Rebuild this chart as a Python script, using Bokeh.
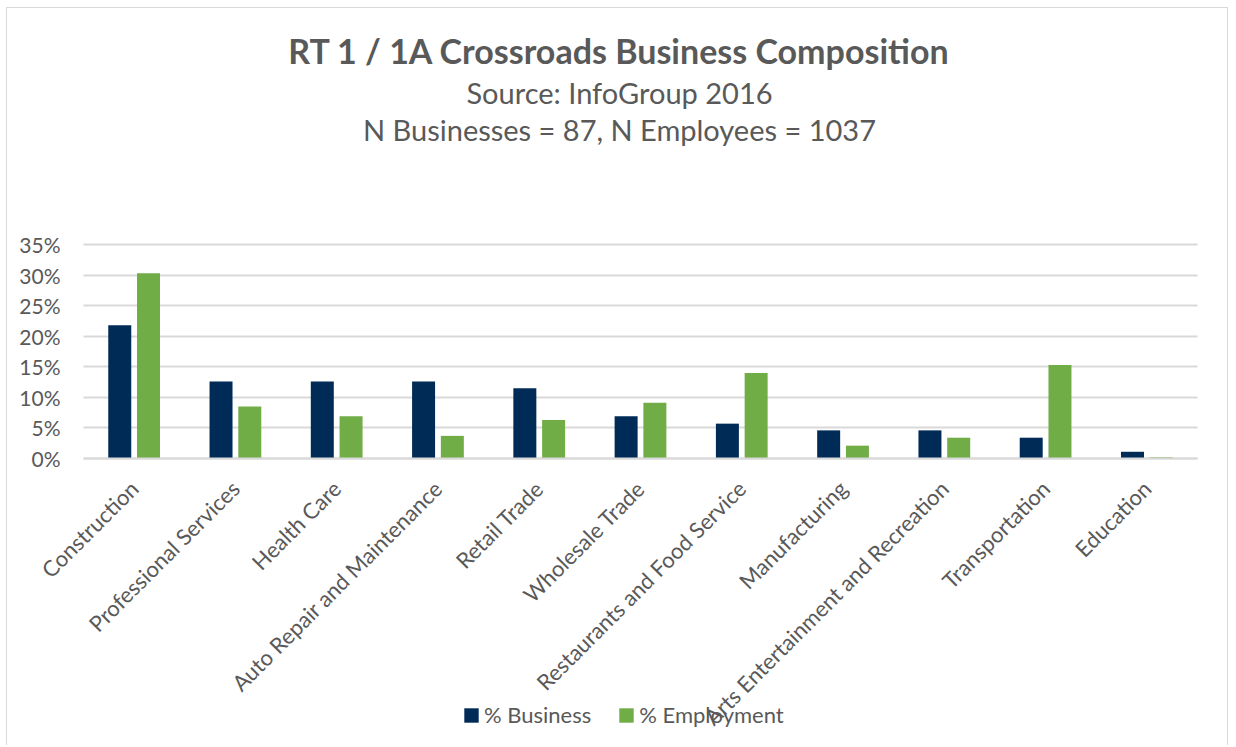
import math
from bokeh.plotting import figure
from bokeh.models import (ColumnDataSource, Range1d, FixedTicker, NumeralTickFormatter,
                          Label, Legend, LegendItem)
from bokeh.transform import dodge
from bokeh.embed import file_html
from bokeh.resources import INLINE

categories = ["Construction", "Professional Services", "Health Care", "Auto Repair and Maintenance",
              "Retail Trade", "Wholesale Trade", "Restaurants and Food Service", "Manufacturing",
              "Arts Entertainment and Recreation", "Transportation", "Education"]
pct_business = [21.8, 12.6, 12.6, 12.6, 11.5, 6.9, 5.7, 4.6, 4.6, 3.4, 1.1]
pct_employment = [30.3, 8.5, 6.9, 3.7, 6.3, 9.1, 14.0, 2.1, 3.4, 15.3, 0.2]
y_ticks = [0, 5, 10, 15, 20, 25, 30, 35]

title_lines = ["RT 1 / 1A Crossroads Business Composition",
               "Source: InfoGroup 2016",
               "N Businesses = 87, N Employees = 1037"]
series_names = ["% Business", "% Employment"]

NAVY = "#002B57"
GREEN = "#70AD47"
GRID = "#D9D9D9"
TEXT = "#595959"
FONT = "Lato"

# layout (canvas pixels)
W, H = 1222, 738
PLOT_LEFT, PLOT_RIGHT = 76, 1190
PLOT_TOP, PLOT_BOTTOM = 236, 450
n = len(categories)
cat_px = (PLOT_RIGHT - PLOT_LEFT) / n
x_lo = -PLOT_LEFT / cat_px
x_hi = n + (W - PLOT_RIGHT) / cat_px
y_max = max(y_ticks) / 100
per_px = y_max / (PLOT_BOTTOM - PLOT_TOP)
y_lo = -(H - PLOT_BOTTOM) * per_px
y_hi = y_max + PLOT_TOP * per_px

centers = [i + 0.5 for i in range(n)]
src = ColumnDataSource(dict(
    xc=centers,
    bus=[v / 100 for v in pct_business],
    emp=[v / 100 for v in pct_employment],
))

p = figure(x_range=Range1d(x_lo, x_hi), y_range=Range1d(y_lo, y_hi),
           width=W, height=H, output_backend="svg", toolbar_location=None,
           min_border_left=0, min_border_right=0, min_border_top=0, min_border_bottom=0,
           background_fill_color="white", border_fill_color="white", outline_line_color=None,
           styles={"border-left": "1px solid #D9D9D9", "border-top": "1px solid #D9D9D9",
                   "border-right": "1px solid #D9D9D9", "margin-left": "6px", "margin-top": "7px"})

# horizontal gridlines limited to the plot area
grid_y = [t / 100 for t in y_ticks]
g = p.ygrid[0]
if "cross_bounds" in g.properties():
    g.ticker = FixedTicker(ticks=grid_y)
    g.cross_bounds = (0, n)
    g.grid_line_color = GRID
    g.grid_line_width = 2
else:
    g.visible = False
    p.segment(x0=[0] * len(grid_y), x1=[n] * len(grid_y), y0=grid_y, y1=grid_y,
              line_color=GRID, line_width=2)
p.xgrid.grid_line_color = None

r1 = p.vbar(x=dodge("xc", -0.142), top="bus", width=0.227, source=src,
            fill_color=NAVY, line_color=None)
r2 = p.vbar(x=dodge("xc", 0.142), top="emp", width=0.227, source=src,
            fill_color=GREEN, line_color=None)

# y axis drawn at the plot-area's left edge
p.yaxis.fixed_location = 0
p.yaxis.ticker = FixedTicker(ticks=grid_y)
p.yaxis.formatter = NumeralTickFormatter(format="0%")
p.yaxis.axis_line_color = None
p.yaxis.major_tick_line_color = None
p.yaxis.minor_tick_line_color = None
p.yaxis.major_label_text_font = FONT
p.yaxis.major_label_text_font_size = "21px"
p.yaxis.major_label_text_color = TEXT
p.yaxis.major_label_standoff = 17

# category axis drawn at y = 0
p.xaxis.fixed_location = 0
p.xaxis.bounds = (0, n)
p.xaxis.ticker = FixedTicker(ticks=centers)
p.xaxis.major_label_overrides = {c: name for c, name in zip(centers, categories)}
p.xaxis.axis_line_color = GRID
p.xaxis.axis_line_width = 2
p.xaxis.major_tick_line_color = None
p.xaxis.minor_tick_line_color = None
p.xaxis.major_label_orientation = math.pi / 4
p.xaxis.major_label_text_font = FONT
p.xaxis.major_label_text_font_size = "22px"
p.xaxis.major_label_text_color = TEXT
p.xaxis.major_label_standoff = 20

# titles: screen units measured from the frame's left / bottom edge (text baselines)
title_x = PLOT_LEFT + 536
title_base = [696, 654, 617]
for txt, yy, fs, bold in zip(title_lines, title_base, ["34px", "29px", "29px"], [True, False, False]):
    p.add_layout(Label(x=title_x, y=yy, x_units="screen", y_units="screen", text=txt,
                       text_align="center", text_baseline="alphabetic", text_font=FONT,
                       text_font_size=fs, text_color=TEXT,
                       text_font_style="bold" if bold else "normal"))

legend = Legend(items=[LegendItem(label=series_names[0], renderers=[r1]),
                       LegendItem(label=series_names[1], renderers=[r2])],
                location=(PLOT_LEFT + 379, 18), orientation="horizontal",
                glyph_width=18, glyph_height=18, label_standoff=4, spacing=26,
                padding=0, margin=0, border_line_color=None, background_fill_alpha=0,
                label_text_font=FONT, label_text_font_size="22px", label_text_color=TEXT)
p.add_layout(legend, "center")

open("out.html", "w").write(file_html(p, INLINE))
